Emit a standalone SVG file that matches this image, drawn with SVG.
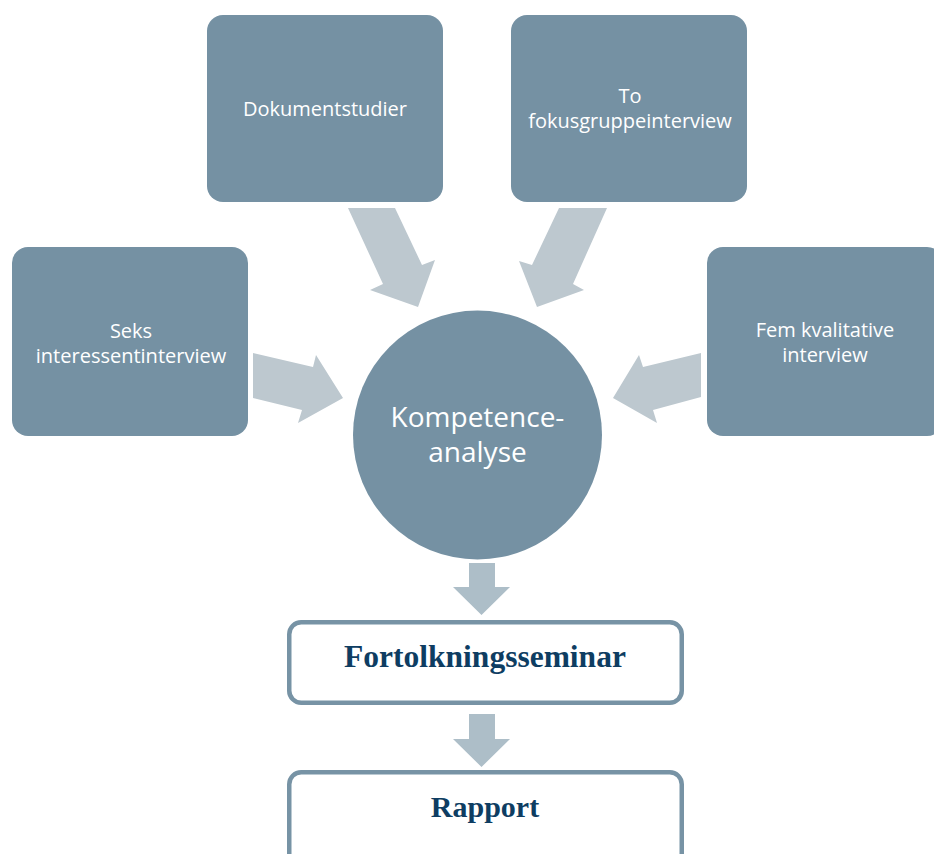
<svg xmlns="http://www.w3.org/2000/svg" width="934" height="854" viewBox="0 0 934 854">
<style>
.box{fill:#7591A3;}
.lbl{font-family:"Open Sans","Liberation Sans",sans-serif;font-size:20px;fill:#FFFFFF;text-anchor:middle;}
.big{font-family:"Open Sans","Liberation Sans",sans-serif;font-size:28px;fill:#FFFFFF;text-anchor:middle;}
.obox{fill:#FFFFFF;stroke:#7793A5;stroke-width:4.5;}
.otxt{font-family:"Liberation Serif","Times New Roman",serif;font-weight:bold;fill:#0E3D62;text-anchor:middle;}
.arr{fill:#BDC8CF;}
.arr2{fill:#ADBEC8;}
</style>
<rect width="934" height="854" fill="#FFFFFF"/>
<g id="connectors">
<polygon class="arr" points="348,208 395,208 422,265 435,260 418,307 370,290 383,284"/>
<polygon class="arr" points="559,208 607,208 573,284 584,290 537,307 519,261 532,265"/>
<polygon class="arr" points="253,353 313,367 316,355 343,398 298,423 302,410 253,398"/>
<polygon class="arr" points="701,353 643,367 639,355 613,398 657,423 653,410 701,397"/>
<polygon class="arr2" points="469,563 495,563 495,587 510,587 481.5,615 453,587 469,587"/>
<polygon class="arr2" points="469,714 495,714 495,739 510,739 481.5,767 453,739 469,739"/>
</g>
<g id="dokumentstudier">
<rect class="box" x="207" y="15" width="236" height="187" rx="16"/>
<text class="lbl" x="325" y="116">Dokumentstudier</text>
</g>
<g id="fokusgruppe">
<rect class="box" x="511" y="15" width="236" height="187" rx="16"/>
<text class="lbl" x="630" y="102.5">To</text>
<text class="lbl" x="630" y="127.5">fokusgruppeinterview</text>
</g>
<g id="interessent">
<rect class="box" x="12" y="247" width="236" height="189" rx="16"/>
<text class="lbl" x="131" y="337.5">Seks</text>
<text class="lbl" x="131" y="362.5">interessentinterview</text>
</g>
<g id="kvalitative">
<rect class="box" x="707" y="247" width="236" height="189" rx="16"/>
<text class="lbl" x="825" y="336.5">Fem kvalitative</text>
<text class="lbl" x="825" y="361.5">interview</text>
</g>
<g id="kompetenceanalyse">
<circle class="box" cx="477.5" cy="435" r="124.5"/>
<text class="big" x="477.5" y="427">Kompetence-</text>
<text class="big" x="477.5" y="462">analyse</text>
</g>
<g id="fortolkningsseminar">
<rect class="obox" x="289.25" y="622.25" width="392.5" height="80.5" rx="12"/>
<text class="otxt" x="485" y="667" font-size="31.5">Fortolkningsseminar</text>
</g>
<g id="rapport">
<rect class="obox" x="289.25" y="772.25" width="392.5" height="100" rx="12"/>
<text class="otxt" x="485" y="817" font-size="30">Rapport</text>
</g>
</svg>
